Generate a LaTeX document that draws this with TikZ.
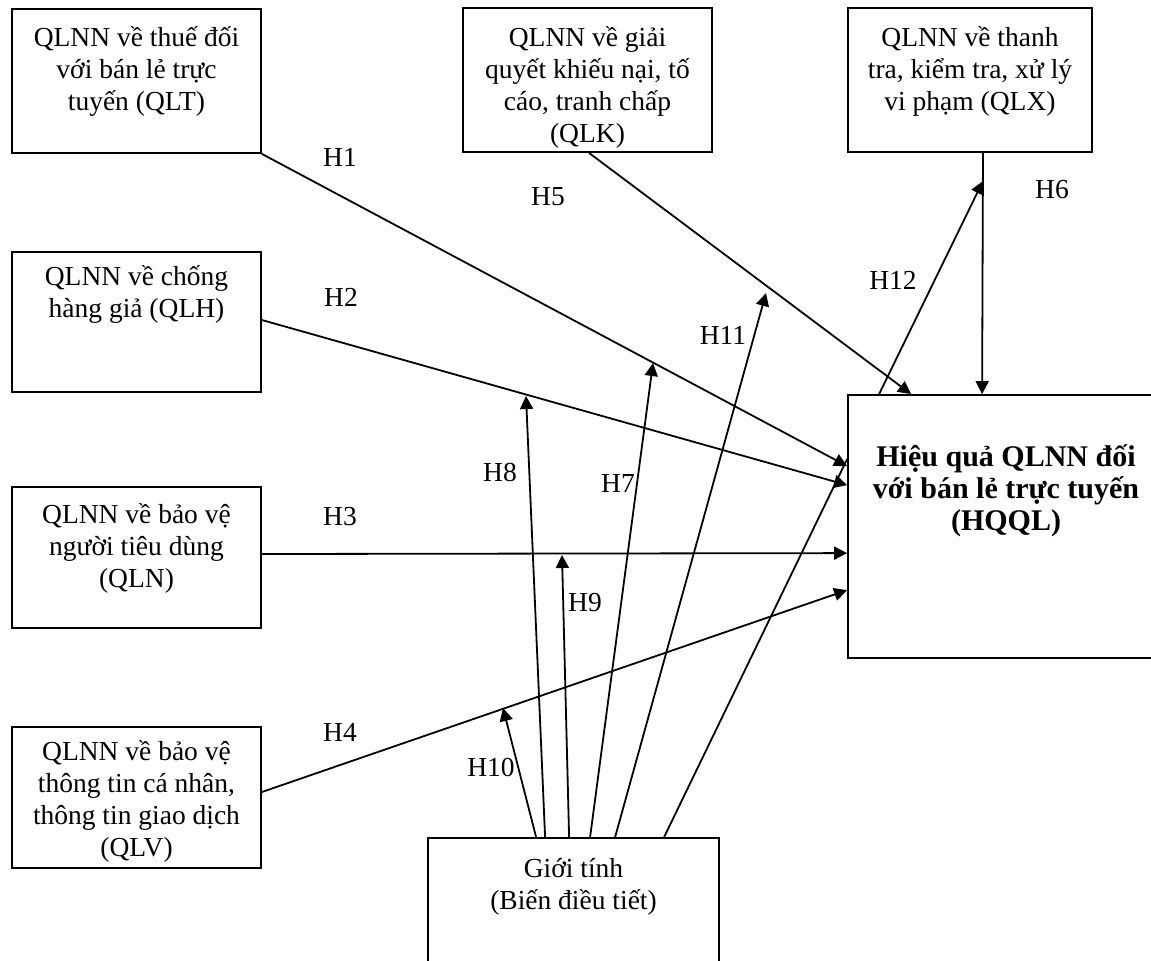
\documentclass[tikz,border=0pt]{standalone}
\usepackage{fontspec}
\setmainfont{Liberation Serif}
\usetikzlibrary{arrows.meta}
\begin{document}
\begin{tikzpicture}[x=0.5pt,y=-0.5pt,
  box/.style={draw, line width=0.9pt, rectangle, inner sep=0pt, minimum width=124.5pt},
  txt/.style={align=center, inner sep=0pt, font={\fontsize{13.75pt}{16pt}\selectfont}, anchor=base},
  lbl/.style={inner sep=0pt, font={\fontsize{13.75pt}{16pt}\selectfont}},
  conn/.style={line width=0.9pt},
  arr/.style={conn, -{Triangle[length=6.5pt,width=6.5pt]}}]
\useasboundingbox (0,0) rectangle (1151,960);
\clip (0,0) rectangle (1151,960);

% boxes (text nodes are anchored at the baseline of their last line)
\node[box, minimum height=72pt] (qlt) at (136.5,81) {};
\node[txt] (qltT) at (136.5,110) {QLNN về thuế đối\\với bán lẻ trực\\tuyến (QLT)};

\node[box, minimum height=70pt] (qlh) at (136.5,322) {};
\node[txt] (qlhT) at (136.5,317) {QLNN về chống\\hàng giả (QLH)};

\node[box, minimum height=70.5pt] (qln) at (136.5,557.5) {};
\node[txt] (qlnT) at (136.5,587) {QLNN về bảo vệ\\người tiêu dùng\\(QLN)};

\node[box, minimum height=70.5pt] (qlv) at (136.5,797.5) {};
\node[txt] (qlvT) at (136.5,856) {QLNN về bảo vệ\\thông tin cá nhân,\\thông tin giao dịch\\(QLV)};

\node[box, minimum height=72pt] (qlk) at (587.5,80) {};
\node[txt] (qlkT) at (587.5,142) {QLNN về giải\\quyết khiếu nại, tố\\cáo, tranh chấp\\(QLK)};

\node[box, minimum width=122pt, minimum height=72pt] (qlx) at (970,80) {};
\node[txt] (qlxT) at (970,110) {QLNN về thanh\\tra, kiểm tra, xử lý\\vi phạm (QLX)};

\node[box, minimum width=157pt, minimum height=131.5pt] (hqql) at (1005,526.5) {};
\node[txt, font={\bfseries\fontsize{15pt}{16pt}\selectfont}] (hqqlT) at (1006,530) {Hiệu quả QLNN đối\\với bán lẻ trực tuyến\\(HQQL)};

\node[box, minimum width=145.5pt, minimum height=81pt] (gt) at (573.5,919) {};
\node[txt] (gtT) at (573.5,909) {Giới tính\\(Biến điều tiết)};

% main paths
\draw[arr] (qlt.south east) -- ([yshift=-36pt]hqql.north west);
\draw[arr] ([yshift=1pt]qlh.east) -- ([yshift=-45.5pt]hqql.north west);
\draw[arr] ([yshift=1.75pt]qln.east) -- ([yshift=-79.5pt]hqql.north west);
\draw[arr] ([yshift=2.75pt]qlv.east) -- ([yshift=-98pt]hqql.north west);
\draw[arr] ([xshift=0.75pt]qlk.south) -- ([xshift=32pt]hqql.north west);
\draw[arr] ([xshift=6.5pt]qlx.south) -- ([xshift=67.5pt]hqql.north west);
\coordinate (t12) at (983,181);
\draw[arr] ([xshift=16pt]hqql.north west) -- (t12);

% moderator paths
\coordinate (t7) at (653,363);
\coordinate (t8) at (526,396);
\coordinate (t9) at (562,555);
\coordinate (t10) at (503,708);
\coordinate (t11) at (766,293);
\draw[arr] ([xshift=81.5pt]gt.north west) -- (t7);
\draw[arr] ([xshift=59pt]gt.north west) -- (t8);
\draw[arr] ([xshift=71pt]gt.north west) -- (t9);
\draw[arr] ([xshift=54.5pt]gt.north west) -- (t10);
\draw[arr] ([xshift=94pt]gt.north west) -- (t11);
\draw[conn] ([xshift=118.5pt]gt.north west) -- ([yshift=-32.5pt]hqql.north west);

% labels
\node[lbl] (h1) at (340,157) {H1};
\node[lbl] (h2) at (341,297) {H2};
\node[lbl] (h3) at (340,517) {H3};
\node[lbl] (h4) at (340,732) {H4};
\node[lbl] (h5) at (548,197) {H5};
\node[lbl] (h6) at (1052,190) {H6};
\node[lbl] (h7) at (618,483) {H7};
\node[lbl] (h8) at (500,472) {H8};
\node[lbl] (h9) at (585,603) {H9};
\node[lbl] (h10) at (491,767) {H10};
\node[lbl] (h11) at (723,335) {H11};
\node[lbl] (h12) at (893,280) {H12};
\end{tikzpicture}
\end{document}
